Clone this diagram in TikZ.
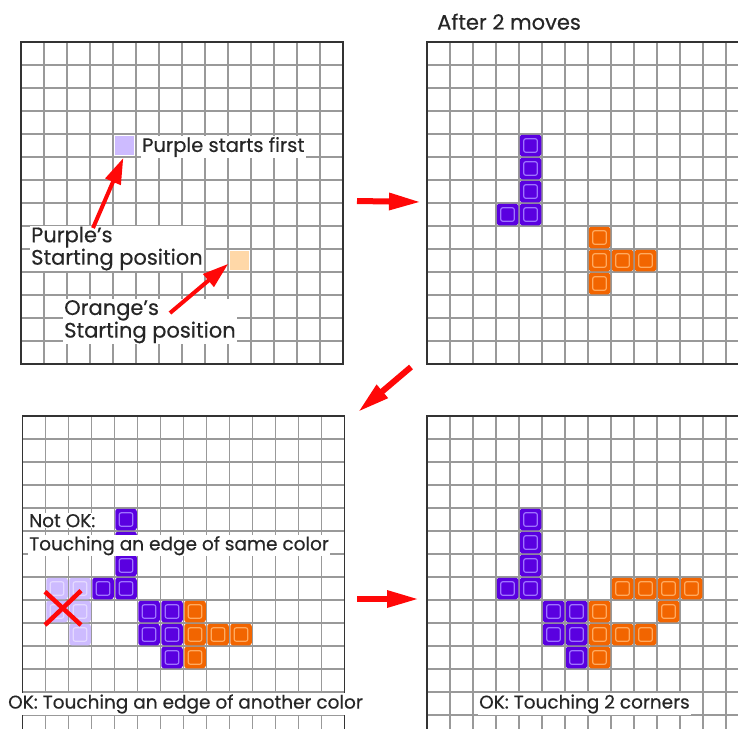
\documentclass[tikz,border=0pt]{standalone}
\usepackage{fontspec}
\setmainfont{Poppins}[FakeBold=0.4]
\usetikzlibrary{arrows.meta}

\definecolor{purp}{HTML}{5A00E0}
\definecolor{purpline}{HTML}{9F74FF}
\definecolor{purplite}{HTML}{CDBBFF}
\definecolor{purpliteline}{HTML}{E4D9FF}
\definecolor{orng}{HTML}{F26500}
\definecolor{orngline}{HTML}{FFAA60}
\definecolor{orngstart}{HTML}{FFD8A8}
\definecolor{gridgray}{HTML}{999999}
\definecolor{arrowred}{HTML}{FF0808}

\begin{document}
\begin{tikzpicture}[x=1pt, y=-1pt,
    gridline/.style={gridgray, line width=1.3pt},
    boardedge/.style={black!80, line width=1.5pt},
    tile/.style 2 args={rectangle, rounded corners=2.5pt, minimum size=21.5pt, inner sep=0pt, fill=#1,
      path picture={\draw[#2, line width=1.2pt, rounded corners=2pt]
        ([shift={(4pt,-4pt)}]path picture bounding box.north west) rectangle
        ([shift={(-4pt,4pt)}]path picture bounding box.south east);}},
    startsq/.style={rectangle, minimum size=19pt, inner sep=0pt, fill=#1},
    lbl/.style={fill=white, inner sep=1pt, text=black!85, anchor=west, align=left,
      font=\fontsize{18.5}{21}\selectfont},
    biglbl/.style={lbl, font=\fontsize{21}{21}\selectfont},
    redarrow/.style={draw=arrowred, line width=4pt, -{Triangle[length=26pt, width=16pt]}},
    bigarrow/.style={draw=arrowred, line width=6pt, -{Triangle[length=32pt, width=16pt]}},
    redx/.style={draw=arrowred, line width=4.5pt}]

    \fill[white] (0,0) rectangle (738,728);
    \path[use as bounding box, clip] (0,0) rectangle (738,728);

    % the four boards
    \foreach \bx/\by in {21/42, 427/42, 22.5/416, 427/416} {
      \begin{scope}[shift={(\bx,\by)}, x=23pt, y=-23pt]
        \foreach \i in {0,...,14} {
          \draw[gridline] (\i,0) -- (\i,14);
          \draw[gridline] (0,\i) -- (14,\i);
        }
        \draw[boardedge] (0,0) rectangle (14,14);
      \end{scope}
    }

    % board 1: starting positions
    \begin{scope}[shift={(21,42)}, x=23pt, y=-23pt]
      \node[startsq=purplite] (pstart) at (4.5,4.5) {};
      \node[startsq=orngstart] (ostart) at (9.5,9.5) {};
    \end{scope}

    % board 2: after 2 moves
    \begin{scope}[shift={(427,42)}, x=23pt, y=-23pt]
      \foreach \c/\r in {4/4, 4/5, 4/6, 4/7, 3/7}
        \node[tile={purp}{purpline}] (b-p-\c-\r) at (\c+.5,\r+.5) {};
      \foreach \c/\r in {7/8, 7/9, 8/9, 9/9, 7/10}
        \node[tile={orng}{orngline}] (b-o-\c-\r) at (\c+.5,\r+.5) {};
    \end{scope}

    % board 3: edge rule
    \begin{scope}[shift={(22.5,416)}, x=23pt, y=-23pt]
      \foreach \c/\r in {1/7, 2/7, 1/8, 2/8, 2/9}
        \node[tile={purplite}{purpliteline}] (c-g-\c-\r) at (\c+.5,\r+.5) {};
      \foreach \c/\r in {4/4, 4/5, 4/6, 4/7, 3/7, 5/8, 6/8, 5/9, 6/9, 6/10}
        \node[tile={purp}{purpline}] (c-p-\c-\r) at (\c+.5,\r+.5) {};
      \foreach \c/\r in {7/8, 7/9, 8/9, 9/9, 7/10}
        \node[tile={orng}{orngline}] (c-o-\c-\r) at (\c+.5,\r+.5) {};
    \end{scope}

    % board 4: corner rule
    \begin{scope}[shift={(427,416)}, x=23pt, y=-23pt]
      \foreach \c/\r in {4/4, 4/5, 4/6, 4/7, 3/7, 5/8, 6/8, 5/9, 6/9, 6/10}
        \node[tile={purp}{purpline}] (d-p-\c-\r) at (\c+.5,\r+.5) {};
      \foreach \c/\r in {7/8, 7/9, 8/9, 9/9, 7/10, 8/7, 9/7, 10/7, 11/7, 10/8}
        \node[tile={orng}{orngline}] (d-o-\c-\r) at (\c+.5,\r+.5) {};
    \end{scope}

    \draw[redx] (45,591.7) -- (81,625);
    \draw[redx] (45,625) -- (81,590.7);

    % labels
    \node[lbl, font=\fontsize{19.5}{21}\selectfont] (psfirst) at (141,147) {Purple starts first};
    \node[biglbl] (plbl) at (30,248.5) {Purple's\\Starting position};
    \node[biglbl] (olbl) at (63,321.7) {Orange's\\Starting position};
    \node[biglbl] (title) at (436,21.7) {After 2 moves};
    \node[lbl] (notok) at (28,520.7) {Not OK:};
    \node[lbl] (same) at (28,545.7) {Touching an edge of same color};
    \node[lbl] (okedge) at (7,704) {OK: Touching an edge of another color};
    \node[lbl] (okcorner) at (478,704) {OK: Touching 2 corners};

    % arrows
    \coordinate (ptail) at (93,228);
    \coordinate (otail) at (170,313);
    \draw[redarrow, shorten >=3pt] (ptail) -- (pstart.south);
    \draw[redarrow, shorten >=2pt] (otail) -- ([yshift=-2pt]ostart.west);

    \coordinate (m1a) at (357,201);
    \coordinate (m1b) at (421,202);
    \coordinate (m2a) at (411,367);
    \coordinate (m2b) at (358,412);
    \coordinate (m3a) at (357,599);
    \coordinate (m3b) at (419,599);
    \draw[bigarrow] (m1a) -- (m1b);
    \draw[bigarrow] (m2a) -- (m2b);
    \draw[bigarrow] (m3a) -- (m3b);

\end{tikzpicture}
\end{document}
